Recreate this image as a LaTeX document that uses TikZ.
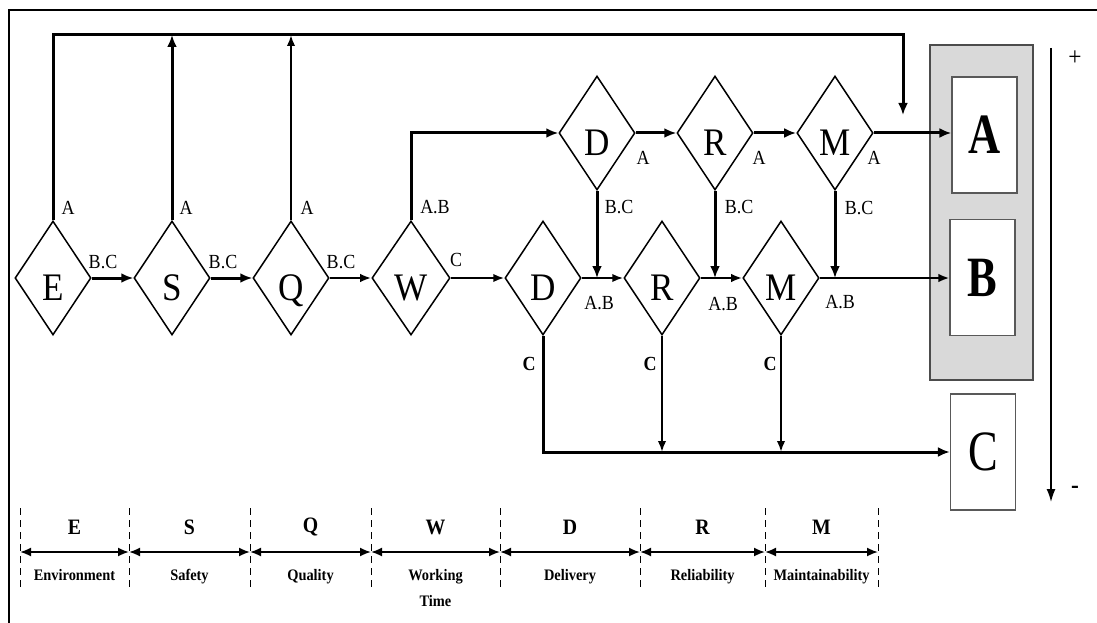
\documentclass[tikz,border=0pt]{standalone}
\usepackage{fontspec}
\setmainfont{Liberation Serif}[FakeStretch=0.9]
\newfontfamily\tallfont{Liberation Serif}[FakeStretch=0.78]
\usetikzlibrary{shapes.geometric,arrows.meta,calc}

\begin{document}
\begin{tikzpicture}
[
    x = 1pt, y = -1pt,
    decision/.style = {draw, shape = diamond, line width = 1.5pt,
        minimum width = 76pt, minimum height = 114pt, inner sep = 0pt,
        text height = 45pt, text depth = 0pt,
        font = \fontsize{39}{39}\selectfont},
    flow/.style = {line width = 3pt, -{Latex[length = 12pt, width = 10pt]}},
    thinflow/.style = {line width = 2.1pt, -{Latex[length = 11pt, width = 8.5pt]}},
    tag/.style = {inner sep = 0pt, font = \fontsize{20}{20}\selectfont},
    ctag/.style = {inner sep = 0pt, font = \bfseries\fontsize{20}{20}\selectfont},
    grade/.style = {draw = gray!70!black, line width = 1.2pt, fill = white,
        minimum width = 65pt, minimum height = 116pt, inner sep = 0pt,
        font = \tallfont\fontsize{57}{57}\selectfont},
    span/.style = {line width = 1.8pt,
        {Latex[length = 11pt, width = 9pt]}-{Latex[length = 11pt, width = 9pt]}},
    tick/.style = {line width = 0.9pt, dash pattern = on 7pt off 5pt},
    criterion/.style = {inner sep = 0pt, font = \bfseries\fontsize{22}{22}\selectfont},
    meaning/.style = {inner sep = 0pt, align = center,
        font = \bfseries\fontsize{16}{26}\selectfont},
]
\useasboundingbox (0,0) rectangle (1097,623);
\draw[line width = 2pt] (9,623) -- (9,10) -- (1097,10);

\node[decision] (E) at (53,278) {E};
\node[decision] (S) at (172,278) {S};
\node[decision] (Q) at (291,278) {Q};
\node[decision] (W) at (411,278) {W};
\node[decision] (D1) at (543,278) {D};
\node[decision] (R1) at (662,278) {R};
\node[decision] (M1) at (781,278) {M};
\node[decision] (D2) at (597,133) {D};
\node[decision] (R2) at (715,133) {R};
\node[decision] (M2) at (835,133) {M};

\node[draw = gray!60!black, fill = gray!30, line width = 2.2pt,
    minimum width = 103pt, minimum height = 335pt] (panel) at (981.5,212.5) {};
\node[grade, font = \tallfont\bfseries\fontsize{57}{57}\selectfont] (A) at (984.5,135) {A};
\node[grade, font = \tallfont\bfseries\fontsize{57}{57}\selectfont] (B) at (982.5,277.5) {B};
\node[grade] (C) at (983,452) {C};

\coordinate (corner) at (903,35);
\coordinate (drop) at (903,115);
\draw[flow] (E.north) |- (corner) -- (drop);
\draw[flow] (S.north) -- (S.north |- corner);
\draw[thinflow] (Q.north) -- (Q.north |- corner);

\draw[flow] (E.east) -- (S.west);
\draw[flow] (S.east) -- (Q.west);
\draw[thinflow] (Q.east) -- (W.west);
\draw[thinflow] (W.east) -- (D1.west);
\draw[flow] (W.north) |- (D2.west);
\draw[flow] (D2.east) -- (R2.west);
\draw[flow] (R2.east) -- (M2.west);
\draw[flow] (M2.east) -- (M2.east -| A.west);
\draw[thinflow] (D1.east) -- (R1.west);
\draw[thinflow] (R1.east) -- (M1.west);
\draw[thinflow] (M1.east) -- (M1.east -| B.west);
\draw[flow] (D2.south) -- (D2.south |- D1.east);
\draw[flow] (R2.south) -- (R2.south |- R1.east);
\draw[flow] (M2.south) -- (M2.south |- M1.east);
\draw[flow] (D1.south) |- (C.west);
\draw[thinflow] (R1.south) -- (R1.south |- C.west);
\draw[thinflow] (M1.south) -- (M1.south |- C.west);

\node[tag] (E-a) at (68,208) {A};
\node[tag] (E-bc) at (103,262) {B.C};
\node[tag] (S-a) at (186,208) {A};
\node[tag] (S-bc) at (223,262) {B.C};
\node[tag] (Q-a) at (307,208) {A};
\node[tag] (Q-bc) at (341,262) {B.C};
\node[tag] (W-ab) at (435,207) {A.B};
\node[tag] (W-c) at (456,260) {C};
\node[tag] (D2-a) at (643,158) {A};
\node[tag] (D2-bc) at (619,207) {B.C};
\node[tag] (R2-a) at (759,158) {A};
\node[tag] (R2-bc) at (739,207) {B.C};
\node[tag] (M2-a) at (874,158) {A};
\node[tag] (M2-bc) at (859,208) {B.C};
\node[tag] (D1-ab) at (599,303) {A.B};
\node[tag] (R1-ab) at (723,304) {A.B};
\node[tag] (M1-ab) at (840,302) {A.B};
\node[ctag] (D1-c) at (529,364) {C};
\node[ctag] (R1-c) at (650,364) {C};
\node[ctag] (M1-c) at (770,364) {C};

\coordinate (best) at (1051,48);
\coordinate (worst) at (1051,502);
\draw[line width = 1.5pt, -{Latex[length = 13pt, width = 9pt]}] (best) -- (worst);
\node[inner sep = 0pt, font = \fontsize{26}{26}\selectfont] (plus) at (1075,58) {+};
\node[inner sep = 0pt, font = \bfseries\fontsize{26}{26}\selectfont] (minus) at (1075,490) {-};

\foreach \x [count = \i] in {20,129,250,371,500,640,765,878} {
    \coordinate (t\i) at (\x,552);
    \draw[tick] (\x,508) -- (\x,588);
}
\foreach \a/\b/\key/\name in {1/2/E/Environment, 2/3/S/Safety, 3/4/Q/Quality,
        4/5/W/{Working\\Time}, 5/6/D/Delivery, 6/7/R/Reliability, 7/8/M/Maintainability} {
    \draw[span] (t\a) -- (t\b);
    \node[criterion] (key\a) at ($(t\a)!0.5!(t\b) + (0,-25)$) {\key};
    \node[meaning, anchor = north] (name\a) at ($(t\a)!0.5!(t\b) + (0,17)$) {\name};
}
\end{tikzpicture}
\end{document}
